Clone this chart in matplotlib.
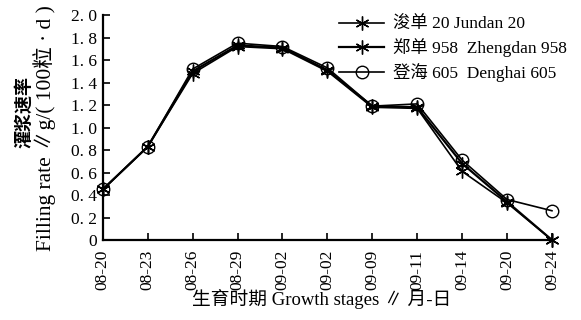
import matplotlib
matplotlib.use("Agg")
import matplotlib.pyplot as plt
import numpy as np

plt.rcParams['font.family'] = ['Liberation Serif', 'Noto Sans CJK SC']

# sampling dates and filling rates, g/(100 grains*d)
dates = ['08-20', '08-23', '08-26', '08-29', '09-02', '09-02',
         '09-09', '09-11', '09-14', '09-20', '09-24']
jundan20 = [0.45, 0.83, 1.48, 1.72, 1.70, 1.50, 1.18, 1.17, 0.61, 0.33, 0.0]
zhengdan958 = [0.45, 0.83, 1.50, 1.73, 1.71, 1.51, 1.19, 1.18, 0.68, 0.34, 0.0]
denghai605 = [0.45, 0.83, 1.52, 1.75, 1.72, 1.53, 1.19, 1.21, 0.71, 0.36, 0.26]

series_labels = ['浚单 20 Jundan 20', '郑单 958  Zhengdan 958', '登海 605  Denghai 605']
yticks = [0, 0.2, 0.4, 0.6, 0.8, 1.0, 1.2, 1.4, 1.6, 1.8, 2.0]
ytick_labels = ['0', '0. 2', '0. 4', '0. 6', '0. 8', '1. 0', '1. 2', '1. 4', '1. 6', '1. 8', '2. 0']

fig = plt.figure(figsize=(5.81, 3.2), dpi=100)
ax = fig.add_axes([0.177, 0.25, 0.773, 0.703])

x = np.arange(len(dates))
star = (6, 2, 0)
ax.plot(x, jundan20, color='black', lw=1.2, marker=star, ms=10, mew=1.0,
        label=series_labels[0], clip_on=False, zorder=3)
ax.plot(x, zhengdan958, color='black', lw=1.6, marker=star, ms=10, mew=1.0,
        label=series_labels[1], clip_on=False, zorder=3)
ax.plot(x, denghai605, color='black', lw=1.2, marker='o', ms=9, mew=1.0,
        mfc='none', label=series_labels[2], clip_on=False, zorder=4)

ax.set_xlim(0, len(dates) - 1)
ax.set_ylim(0, 2.0)
ax.set_xticks(x)
ax.set_xticklabels(dates, rotation=90, fontsize=12.5)
ax.set_yticks(yticks)
ax.set_yticklabels(ytick_labels, fontsize=12.5)
ax.tick_params(direction='in', length=5, width=1.2)
ax.tick_params(axis='x', pad=7)
ax.tick_params(axis='y', pad=4)

ax.spines['top'].set_visible(False)
ax.spines['right'].set_visible(False)
ax.spines['left'].set_linewidth(1.6)
ax.spines['bottom'].set_linewidth(1.6)

# two-line y label: Chinese line sits outside the English one
fig.text(24 / 581, 1 - 112 / 320, '灌浆速率', rotation=90, fontsize=13,
         fontweight='bold', ha='center', va='center')
fig.text(45 / 581, 1 - 128 / 320, 'Filling rate ∥g/( 100粒 · d )', rotation=90,
         fontsize=15.5, ha='center', va='center')

fig.text(322 / 581, 1 - 299 / 320, '生育时期 Growth stages ∥ 月-日', fontsize=13.5,
         ha='center', va='center')

leg = ax.legend(loc='upper right', bbox_to_anchor=(1.068, 1.06), frameon=False,
                fontsize=12.5, handlelength=2.6, labelspacing=0.3, handletextpad=0.5)

fig.savefig('out.png', dpi=100)
